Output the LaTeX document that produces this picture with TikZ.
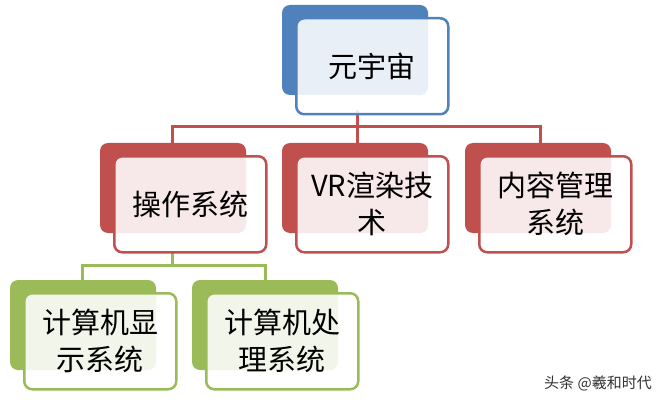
\documentclass[tikz,border=0pt]{standalone}
\usepackage{fontspec}
\newfontfamily\cjk{Noto Sans CJK SC}
\begin{document}
\begin{tikzpicture}[x=1pt,y=-1pt,
 backbox/.style={rounded corners=8pt,fill=#1},
 frontbox/.style={rounded corners=8pt,draw=#1,line width=2.5pt,fill=white,fill opacity=0.88,text opacity=1},
 lbl/.style={font=\cjk\fontsize{29}{37}\selectfont,align=center,text=black},
 conn/.style={line width=3pt,draw=#1}]
\useasboundingbox (0,0) rectangle (668,406);
\definecolor{cb}{RGB}{79,129,189}
\definecolor{cr}{RGB}{192,80,77}
\definecolor{cg}{RGB}{155,187,89}
% connectors
\coordinate (tb) at (357,110);
\coordinate (h1) at (357,127);
\draw[conn=cr] (tb) -- (h1);
\draw[conn=cr] (172,143) -- (172,127) -- (540,127) -- (540,143);
\draw[conn=cr] (357,127) -- (357,143);
\coordinate (g0) at (172,251);
\draw[conn=cg] (g0) -- (172,265);
\draw[conn=cg] (82,280) -- (82,265) -- (265,265) -- (265,280);
% boxes
\newcommand\mybox[6]{%
 \fill[backbox=#5] (#1,#2) rectangle ++(146,90);
 \node[frontbox=#5,minimum width=152pt,minimum height=96pt,anchor=north west,inner sep=0pt] (#6) at (#1+13,#2+12) {};
 \node[lbl] (#6t) at (#6.center) {#3};}
\mybox{282}{5}{元宇宙}{}{cb}{top}
\mybox{100}{143}{操作系统}{}{cr}{a}
\mybox{282}{143}{VR渲染技\\术}{}{cr}{b}
\mybox{465}{143}{内容管理\\系统}{}{cr}{c}
\mybox{10}{280}{计算机显\\示系统}{}{cg}{d}
\mybox{192}{280}{计算机处\\理系统}{}{cg}{e}
\node[font=\cjk\fontsize{15}{18}\selectfont,text=black!80] (wm) at (598,383) {头条 @羲和时代};
\end{tikzpicture}
\end{document}
